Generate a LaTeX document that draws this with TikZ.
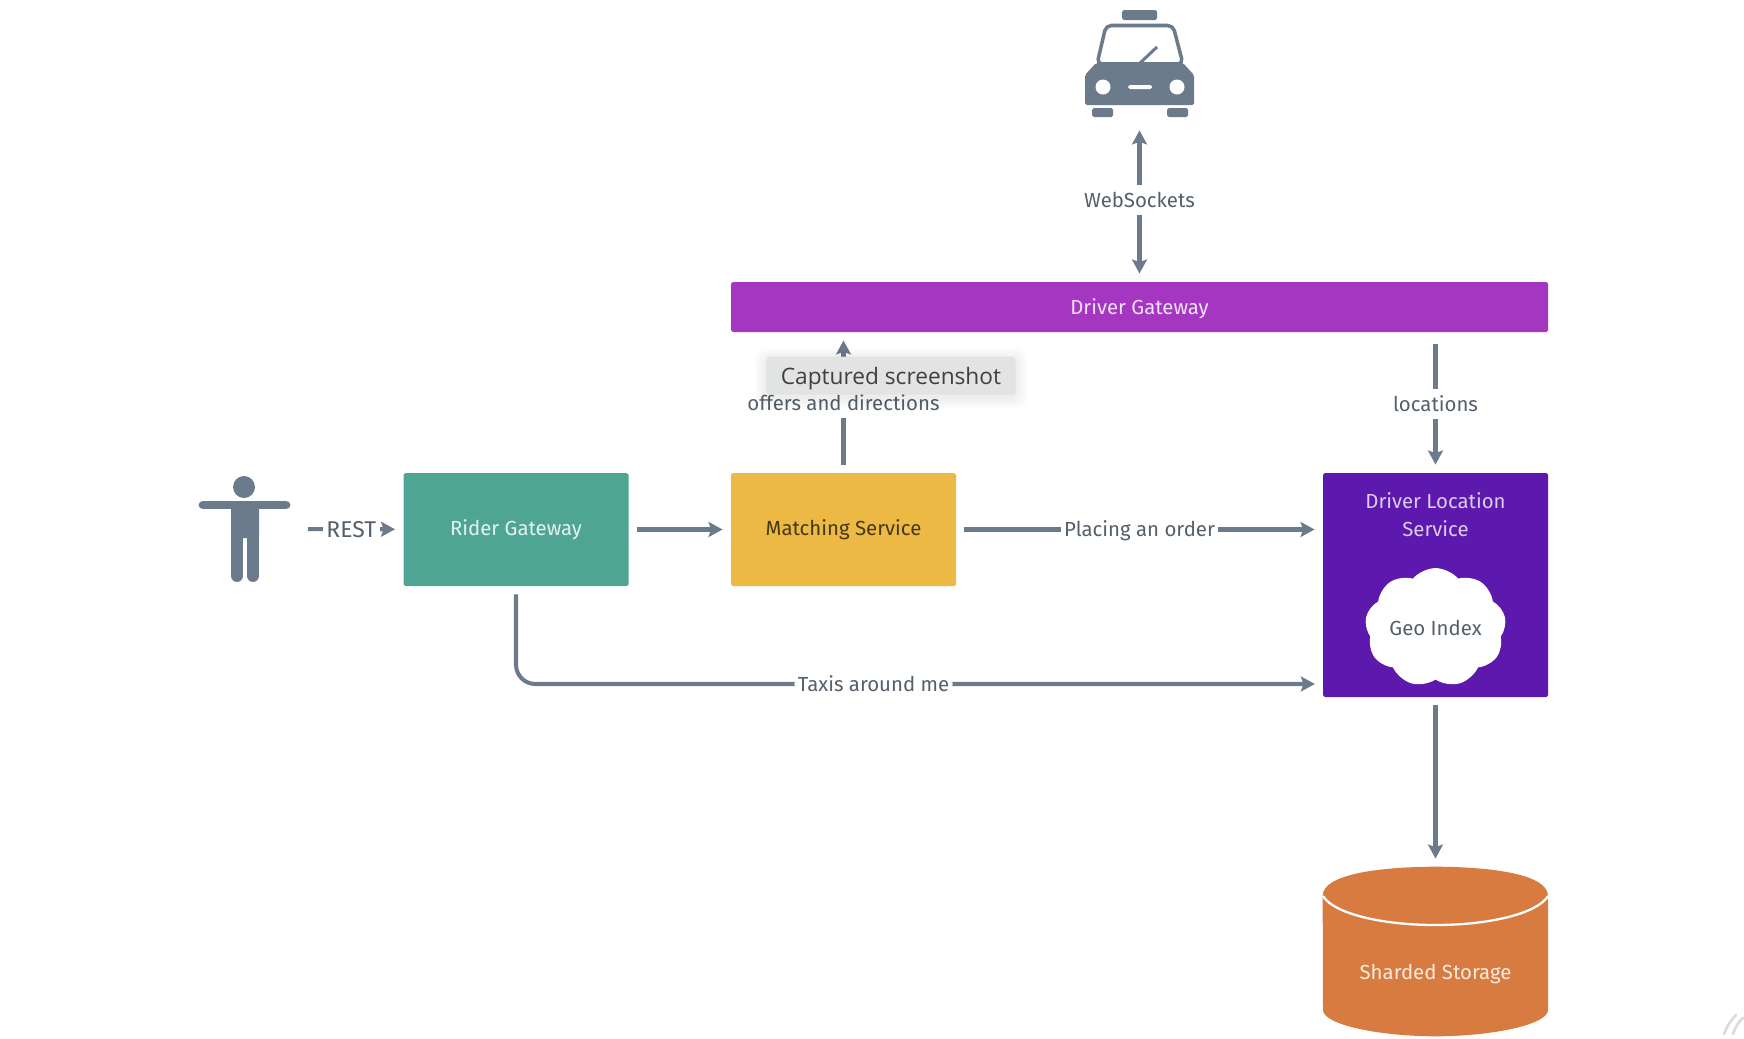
\documentclass[tikz,border=0pt]{standalone}
\usepackage{fontspec}
\setmainfont{Fira Sans}
\newfontfamily\shotfont{Open Sans}
\usetikzlibrary{arrows.meta,%
	shapes.geometric,%
	shapes.symbols}
\definecolor{linegray}{HTML}{6C7B8B}
\definecolor{labelgray}{HTML}{55606B}
\definecolor{ridergreen}{HTML}{4FA593}
\definecolor{matchyellow}{HTML}{ECB945}
\definecolor{gatewaypurple}{HTML}{A436C1}
\definecolor{locationviolet}{HTML}{5D18AE}
\definecolor{storageorange}{HTML}{D87B41}
\definecolor{shotgray}{HTML}{E2E4E3}
\begin{document}
\begin{tikzpicture}[x=0.02cm,y=-0.02cm,font=\fontsize{11.6}{16}\selectfont,
	conn_tip/.tip={Stealth[length=8pt,width=8.5pt,inset=1.5pt]},
	main_node/.style={draw=none,rounded corners=1pt,minimum width=225*0.02cm,minimum height=113*0.02cm,inner sep=0pt,align=center},
	text_node/.style={inner sep=0pt,align=center},
	conn/.style={draw=linegray,line width=2.3pt,-conn_tip,shorten >=4.6pt,shorten <=4.6pt},
	conn_label/.style={fill=white,text=labelgray,inner xsep=2pt,inner ysep=0pt,minimum height=30*0.02cm}]
		\useasboundingbox (0,0) rectangle (1744,1038);

		% boxes
		\node[main_node,fill=ridergreen,text=white!85!ridergreen] (rider) at (516,529.5) {Rider Gateway};
		\node[main_node,fill=matchyellow,text=black!70!matchyellow] (matching) at (843.5,529.5) {Matching Service};
		\node[main_node,fill=gatewaypurple,text=white!85!gatewaypurple,minimum width=817*0.02cm,minimum height=50*0.02cm] (driver_gw) at (1139.5,307) {\raisebox{-1.2pt}[\height][\depth]{Driver Gateway}};
		\node[main_node,fill=locationviolet,minimum height=224*0.02cm] (location) at (1435.5,585) {};
		\node[text_node,text=white!78!locationviolet] (location_text) at (1435.5,515) {Driver Location\\Service};
		\node[cloud,cloud puffs=9,cloud puff arc=100,aspect=1.25,fill=white,text=labelgray,inner sep=0pt,minimum width=141*0.02cm,minimum height=113*0.02cm] (geo) at (1435.5,627.5) {Geo Index};

		% storage
		\node[inner sep=0pt,minimum width=225*0.02cm,minimum height=169*0.02cm] (storage) at (1435.5,951.5) {};
		\fill[storageorange] (storage.north west) ++(0,29) .. controls (1323,875) and (1375,867) .. (storage.north)
			.. controls (1496,867) and (1548,875) .. (1548,896) -- (1548,1010)
			.. controls (1548,1024) and (1496,1036) .. (storage.south)
			.. controls (1375,1036) and (1323,1024) .. (1323,1010) -- cycle;
		\draw[white,line width=1.3pt] (1323,896) .. controls (1333,913) and (1380,925) .. (1435.5,925)
			.. controls (1491,925) and (1538,913) .. (1548,896);
		\node[text_node,text=white!85!storageorange] (storage_text) at (1435.5,974) {Sharded Storage};

		% rider figure
		\node[inner sep=0pt,minimum width=91*0.02cm,minimum height=108*0.02cm] (person) at (244.5,529) {};
		\fill[linegray] (244,487) circle (11);
		\draw[linegray,line width=5pt,line cap=round] (203,505) -- (286,505);
		\fill[linegray,rounded corners=1pt] (231,502) rectangle (259,538);
		\draw[linegray,line width=6.8pt,line cap=round] (237,530) -- (237,576);
		\draw[linegray,line width=6.8pt,line cap=round] (253,530) -- (253,576);

		% taxi
		\node[inner sep=0pt,minimum width=109*0.02cm,minimum height=107*0.02cm] (taxi) at (1139.5,63.5) {};
		\fill[linegray,rounded corners=1pt] (1122,10) rectangle (1157,20);
		\draw[linegray,fill=white,line width=2pt,rounded corners=3pt] (1097,64) -- (1106,25.5) -- (1173,25.5) -- (1183,64) -- cycle;
		\fill[linegray,rounded corners=1pt] (1085,105) -- (1085,75) -- (1096,63) -- (1183,63) -- (1194,75) -- (1194,105) -- cycle;
		\draw[linegray,line width=1.7pt] (1140,63) -- (1157,47);
		\fill[linegray,rounded corners=1pt] (1092,108) rectangle (1113,117);
		\fill[linegray,rounded corners=1pt] (1167,108) rectangle (1188,117);
		\fill[white] (1103,87) circle (7.5);
		\fill[white] (1177,87) circle (7.5);
		\fill[white,rounded corners=1pt] (1128,85) rectangle (1152,89);

		% connectors
		\draw[conn,shorten <=10pt] (person) -- node[conn_label,pos=0.54,font=\fontsize{13}{16}\selectfont] (rest_label) {REST} (rider);
		\draw[conn] (rider) -- (matching);
		\draw[conn] (matching) -- node[conn_label,yshift=-0.5pt] (order_label) {Placing an order} (location.west |- matching);
		\coordinate (taxis_in) at (1323,684);
		\draw[conn,rounded corners=11pt] (rider.south) |- node[conn_label,pos=0.7215] (taxis_label) {Taxis around me} (taxis_in);
		\draw[conn] (matching.north) -- (driver_gw.south -| matching.north);
		\node[conn_label] (offers_label) at (843.5,403) {offers and directions};
		\draw[conn,conn_tip-conn_tip,shorten <=7.4pt] (taxi.south) -- node[conn_label,pos=0.5,yshift=-0.5pt] (socket_label) {WebSockets} (taxi.south |- driver_gw.north);
		\draw[conn,shorten <=6.8pt] (location.north |- driver_gw.south) -- node[conn_label,pos=0.51] (locations_label) {locations} (location.north);
		\draw[conn] (location.south) -- (storage.north);

		% screenshot tag
		\foreach \s in {2,4,...,12}
			\fill[black,opacity=0.012,rounded corners=6pt] (767-\s,357-\s+3) rectangle (1015+\s,394+\s+3);
		\node[fill=shotgray,draw=black!12,line width=0.3pt,rounded corners=1pt,minimum width=248*0.02cm,minimum height=37*0.02cm,inner sep=0pt,font=\shotfont\fontsize{12.9}{14}\selectfont,text=black!75] (shot_tag) at (891,375.5) {\raisebox{-1.8pt}[\height][\depth]{Captured screenshot}};

		% watermark in the corner
		\draw[black!14,line width=1.5pt,line cap=round] (1724,1034) .. controls (1727,1026) and (1731,1020) .. (1736,1015);
		\draw[black!14,line width=1.5pt,line cap=round] (1733,1034) .. controls (1735,1028) and (1738,1022) .. (1743,1018);
\end{tikzpicture}
\end{document}
